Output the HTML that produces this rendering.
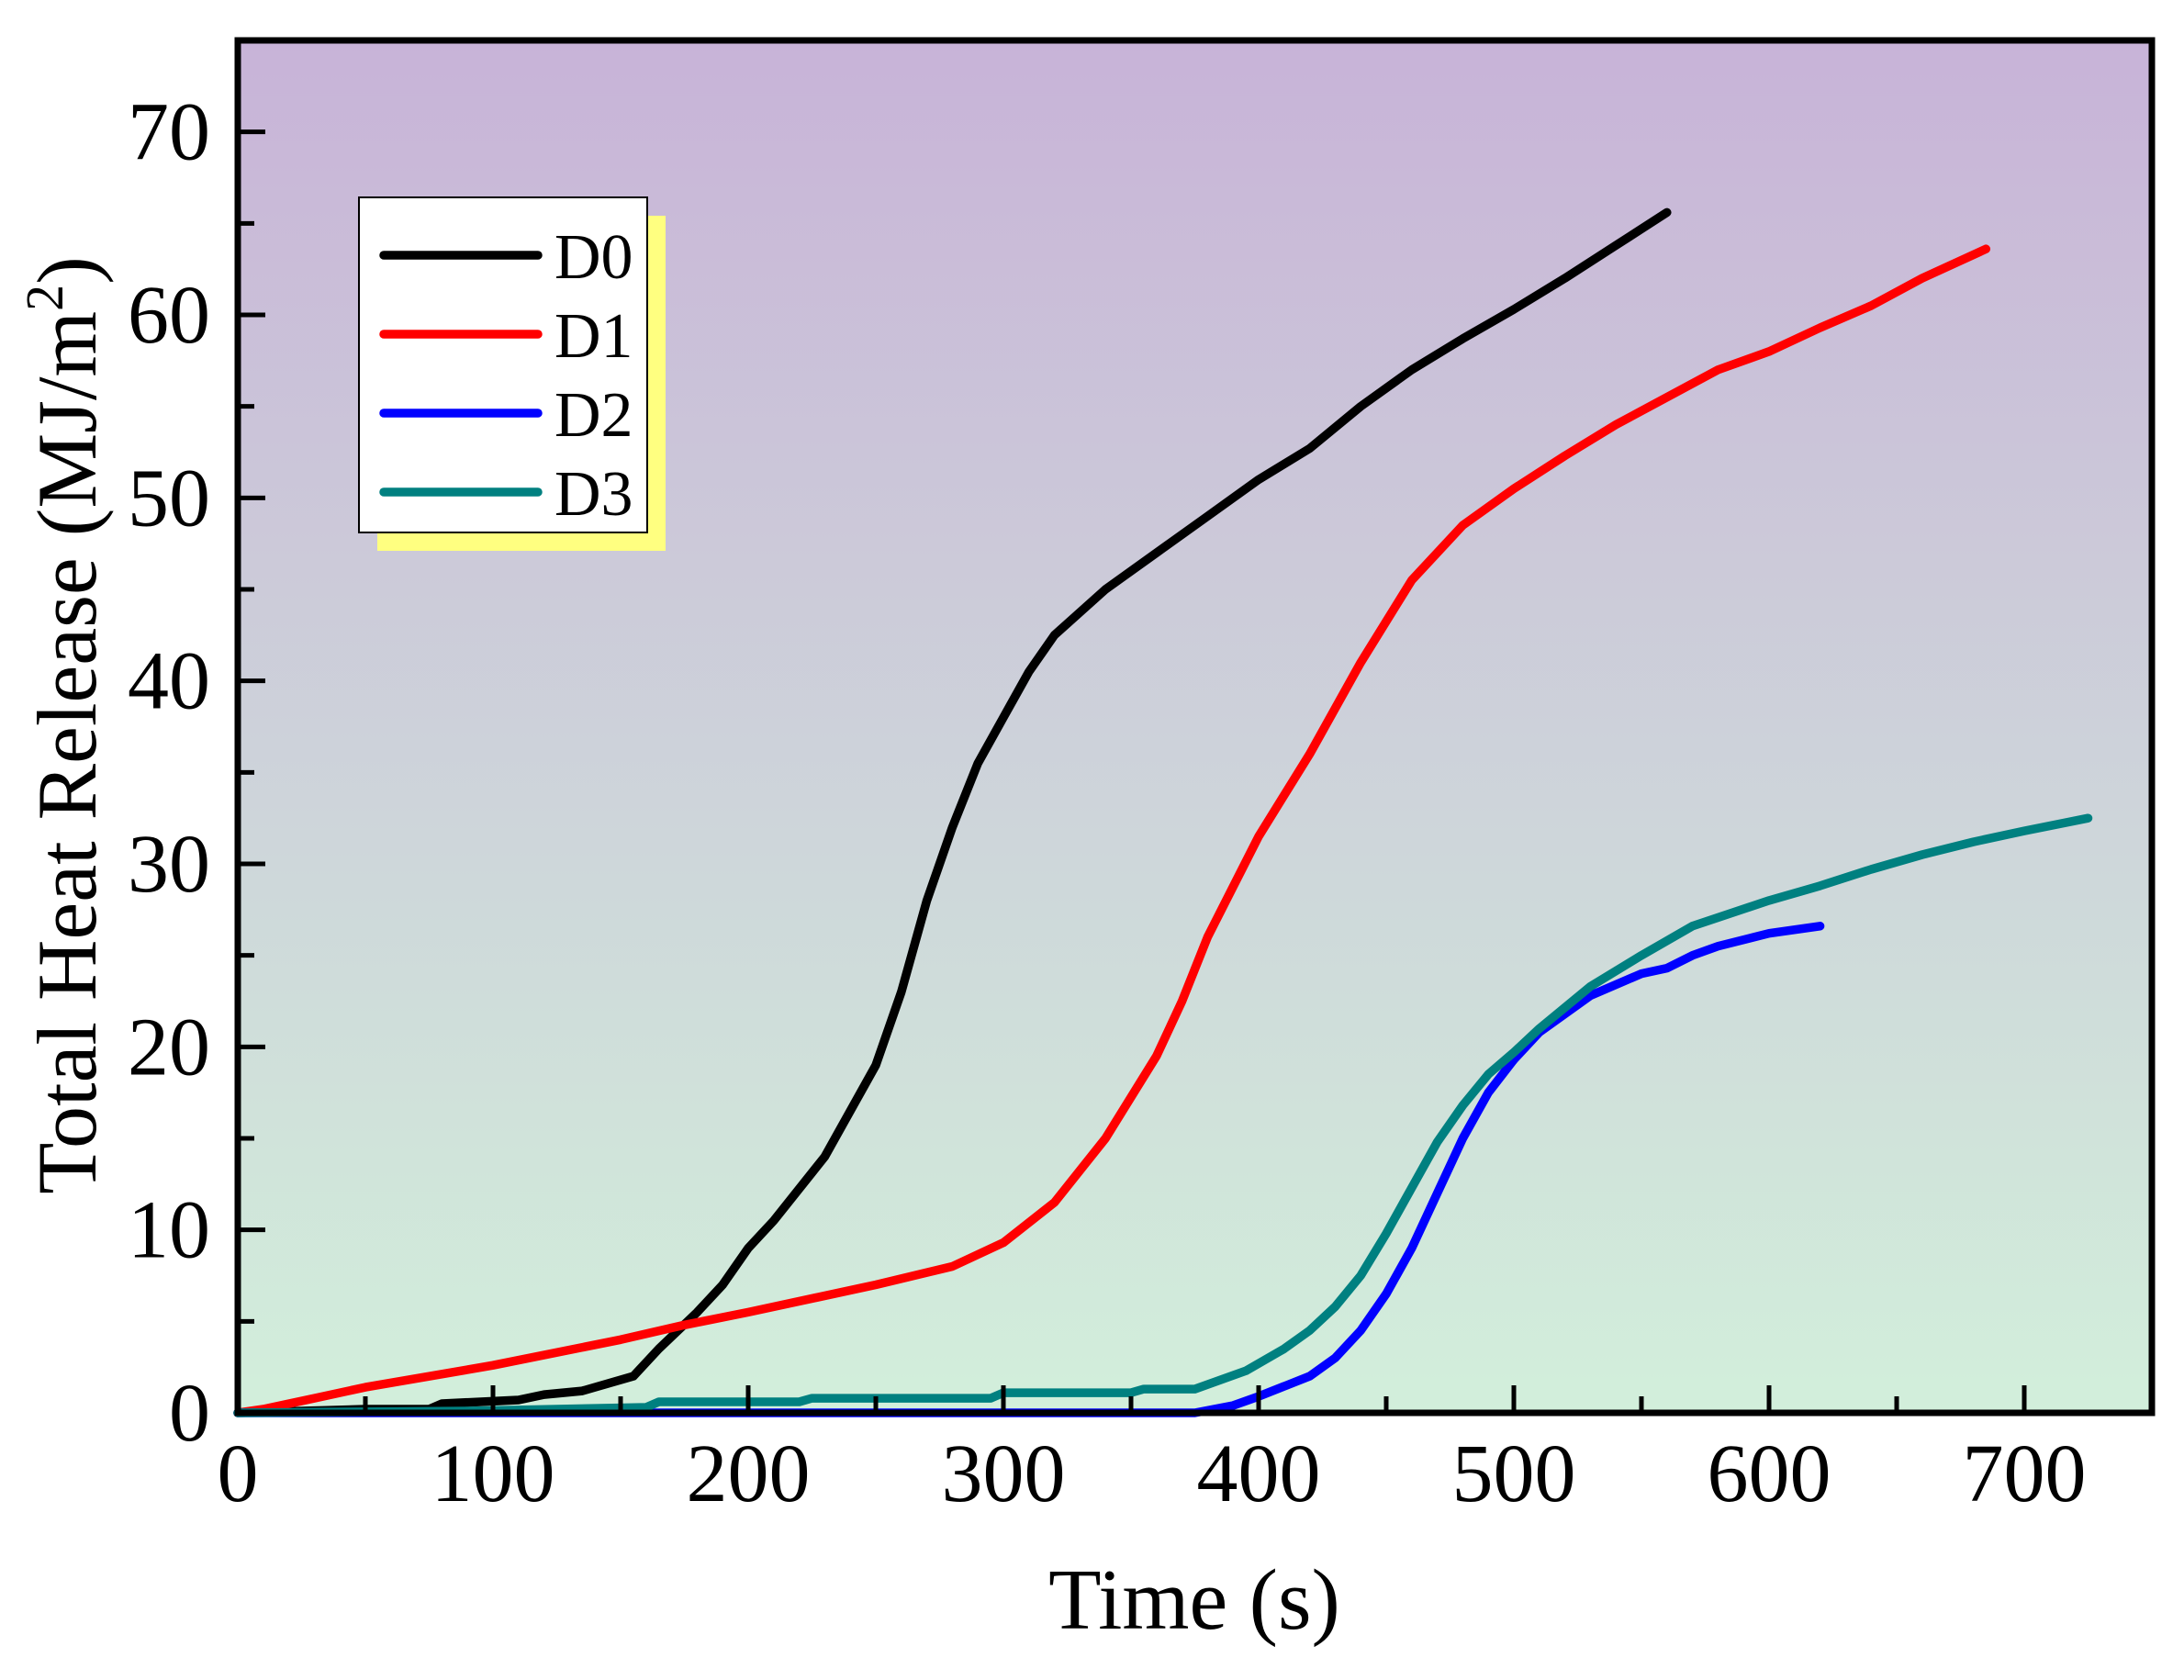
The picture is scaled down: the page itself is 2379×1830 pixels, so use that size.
<!DOCTYPE html>
<html><head><meta charset="utf-8"><style>
html,body{margin:0;padding:0;background:#fff;}
svg{display:block;font-family:"Liberation Serif",serif;}
</style></head><body>
<svg id="chart" width="2379" height="1830" viewBox="0 0 2379 1830" xmlns="http://www.w3.org/2000/svg">
<defs><linearGradient id="bg" x1="0" y1="0" x2="0" y2="1"><stop offset="0" stop-color="#c8b3d8"/><stop offset="1" stop-color="#d2efdb"/></linearGradient></defs>
<rect x="259" y="44" width="2085" height="1495" fill="url(#bg)"/>
<g id="series"></g>
<g id="axes"></g>
<text x="1301" y="1774" font-size="94" text-anchor="middle">Time (s)</text>
<text transform="translate(104,790) rotate(-90)" font-size="92" text-anchor="middle">Total Heat Release (MJ/m<tspan dy="-36" font-size="58">2</tspan><tspan dy="36">)</tspan></text>
<g>
<rect x="411" y="235" width="314" height="365" fill="#ffff80"/>
<rect x="391" y="215" width="314" height="365" fill="#fff" stroke="#000" stroke-width="2"/>
<g id="legend-items"></g>
</g>
</svg>
<script>
const xTicks=[0,100,200,300,400,500,600,700];
const yTicks=[0,10,20,30,40,50,60,70];
const seriesNames=["D0","D1","D2","D3"];
const seriesColors=["#000000","#ff0000","#0000ff","#008080"];
const d0x=[0,50,75,80,110,120,135,155,165,180,190,200,210,230,250,260,270,280,290,300,310,320,340,360,380,400,420,440,460,480,500,520,540,560];
const d0y=[0,0.2,0.2,0.5,0.7,1,1.2,2,3.5,5.5,7,9,10.5,14,19,23,28,32,35.5,38,40.5,42.5,45,47,49,51,52.7,55,57,58.7,60.3,62,63.8,65.6];
const d1x=[0,10,30,50,100,150,175,200,250,280,300,320,340,360,370,380,400,420,440,460,480,500,520,540,560,580,600,620,640,660,685];
const d1y=[0,0.2,0.8,1.4,2.6,4,4.8,5.5,7,8,9.3,11.5,15,19.5,22.5,26,31.5,36,41,45.5,48.5,50.5,52.3,54,55.5,57,58,59.3,60.5,62,63.6];
const d2x=[0,375,390,400,420,430,440,450,460,470,480,490,500,510,530,550,560,570,580,600,620];
const d2y=[0,0,0.4,0.9,2,3,4.5,6.5,9,12,15,17.5,19.3,20.8,22.8,24,24.3,25,25.5,26.2,26.6];
const d3x=[0,90,160,165,220,225,295,300,350,355,375,395,410,420,430,440,450,460,470,480,490,500,510,530,550,560,570,600,620,640,660,680,700,725];
const d3y=[0,0.1,0.3,0.6,0.6,0.8,0.8,1.1,1.1,1.3,1.3,2.3,3.5,4.5,5.8,7.5,9.8,12.3,14.8,16.8,18.5,19.7,21,23.3,25,25.8,26.6,28,28.8,29.7,30.5,31.2,31.8,32.5];
const L=259,R=2344,T=44,B=1539,XMAX=750,YMAX=75;
const sx=v=>L+v/XMAX*(R-L), sy=v=>B-v/YMAX*(B-T);
const NS="http://www.w3.org/2000/svg";
function mk(tag,attrs,parent){const e=document.createElementNS(NS,tag);for(const k in attrs)e.setAttribute(k,attrs[k]);parent.appendChild(e);return e;}
const sg=document.getElementById('series');
const all=[[d0x,d0y],[d1x,d1y],[d2x,d2y],[d3x,d3y]];
all.forEach((s,i)=>{
  const p=mk('path',{d:s[0].map((x,j)=>(j?'L':'M')+sx(x).toFixed(1)+','+sy(s[1][j]).toFixed(1)).join(''),fill:'none',stroke:seriesColors[i],'stroke-width':9.5,'stroke-linejoin':'round','stroke-linecap':'round'},sg);
  
  
});
const ax=document.getElementById('axes');
const frame=mk('rect',{x:L,y:T,width:R-L,height:B-T,fill:'none',stroke:'#000','stroke-width':7},ax);


for(let v=0;v<=XMAX;v+=50){
  const major=v%100===0;
  const t=mk('line',{x1:sx(v),x2:sx(v),y1:B,y2:B-(major?30:18),stroke:'#000','stroke-width':5},ax);
  
  
}
xTicks.forEach(v=>{
  const t=mk('text',{x:sx(v),y:B+96,'font-size':90,'text-anchor':'middle'},ax);
  t.textContent=v;
  
  
});
for(let v=0;v<=YMAX;v+=5){
  const major=v%10===0;
  const t=mk('line',{x1:L,x2:L+(major?30:18),y1:sy(v),y2:sy(v),stroke:'#000','stroke-width':5},ax);
  
  
}
yTicks.forEach(v=>{
  const t=mk('text',{x:L-30,y:sy(v)+30,'font-size':90,'text-anchor':'end'},ax);
  t.textContent=v;
  
  
});
const lg=document.getElementById('legend-items');
seriesNames.forEach((n,i)=>{
  const y=278+i*86;
  const l=mk('line',{x1:418,x2:586,y1:y,y2:y,stroke:seriesColors[i],'stroke-width':9.5,'stroke-linecap':'round'},lg);
  
  
  const t=mk('text',{x:604,y:y+25,'font-size':70},lg);
  t.textContent=n;
  
  
});
</script>
</body></html>
